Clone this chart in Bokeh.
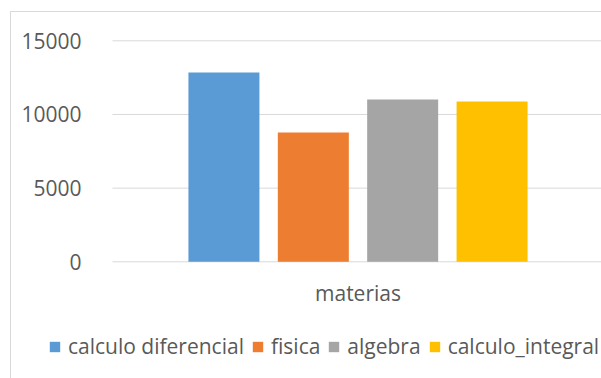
from bokeh.plotting import figure
from bokeh.models import Range1d, FixedTicker, Legend, LegendItem, ColumnDataSource
from bokeh.embed import file_html
from bokeh.resources import INLINE

# ---- data ----
categories = ["materias"]
series_names = ["calculo diferencial", "fisica", "algebra", "calculo_integral"]
calculo_diferencial = [12850]
fisica = [8780]
algebra = [11020]
calculo_integral = [10880]
y_ticks = [0, 5000, 10000, 15000]

series_values = [calculo_diferencial, fisica, algebra, calculo_integral]
colors = ["#5B9BD5", "#ED7D31", "#A5A5A5", "#FFC000"]
offsets = [-0.2725, -0.0908, 0.0908, 0.2725]
bar_width = 0.1443

# plot-area extent (in x data units) and the view
PLOT_LEFT, PLOT_RIGHT = -0.499, 0.6
X_VIEW = (-0.7266, 0.4949)
Y_VIEW = (-7921, 17736)

TEXT = "#595959"
GRID = "#D9D9D9"
FONT = "Open Sans"
FSIZE = "21px"

bg = ("linear-gradient(#D9D9D9,#D9D9D9) 10px 11px / 1px 100% no-repeat, "
      "linear-gradient(#D9D9D9,#D9D9D9) 10px 11px / 100% 1px no-repeat, white")

p = figure(width=601, height=378, output_backend="svg", toolbar_location=None,
           x_range=Range1d(*X_VIEW), y_range=Range1d(*Y_VIEW),
           min_border=0, styles={"background": bg})
p.outline_line_color = None
p.background_fill_color = None
p.border_fill_color = None
p.xgrid.visible = False
p.ygrid.visible = False

# horizontal gridlines at the y ticks
p.segment(x0=PLOT_LEFT, x1=PLOT_RIGHT, y0=y_ticks, y1=y_ticks,
          line_color=GRID, line_width=1)

renderers = []
for name, vals, col, off in zip(series_names, series_values, colors, offsets):
    src = ColumnDataSource(dict(x=[i + off for i in range(len(categories))], top=vals))
    r = p.vbar(x="x", top="top", width=bar_width, bottom=0, source=src,
               fill_color=col, line_color=None)
    renderers.append((name, r))

# y axis (drawn at the plot-area's left edge)
p.yaxis.fixed_location = PLOT_LEFT
p.yaxis.ticker = FixedTicker(ticks=y_ticks)
p.yaxis.axis_line_color = None
p.yaxis.major_tick_line_color = None
p.yaxis.minor_tick_line_color = None
p.yaxis.major_label_standoff = 25
p.yaxis.major_label_text_font = FONT
p.yaxis.major_label_text_font_size = FSIZE
p.yaxis.major_label_text_color = TEXT

# x axis (drawn at y = 0)
p.xaxis.fixed_location = 0
p.xaxis.ticker = FixedTicker(ticks=list(range(len(categories))))
p.xaxis.major_label_overrides = {i: c for i, c in enumerate(categories)}
p.xaxis.axis_line_color = None
p.xaxis.major_tick_line_color = None
p.xaxis.minor_tick_line_color = None
p.xaxis.major_label_standoff = 11
p.xaxis.major_label_text_font = FONT
p.xaxis.major_label_text_font_size = FSIZE
p.xaxis.major_label_text_color = TEXT

# legend
legend = Legend(items=[LegendItem(label=n, renderers=[r]) for n, r in renderers],
                orientation="horizontal", location=(48, 18),
                padding=0, margin=0, border_line_color=None,
                background_fill_alpha=0, glyph_width=13, glyph_height=13,
                label_standoff=7, spacing=7,
                label_text_font=FONT, label_text_font_size=FSIZE,
                label_text_color=TEXT)
p.add_layout(legend, "center")

open("out.html", "w").write(file_html(p, INLINE))
